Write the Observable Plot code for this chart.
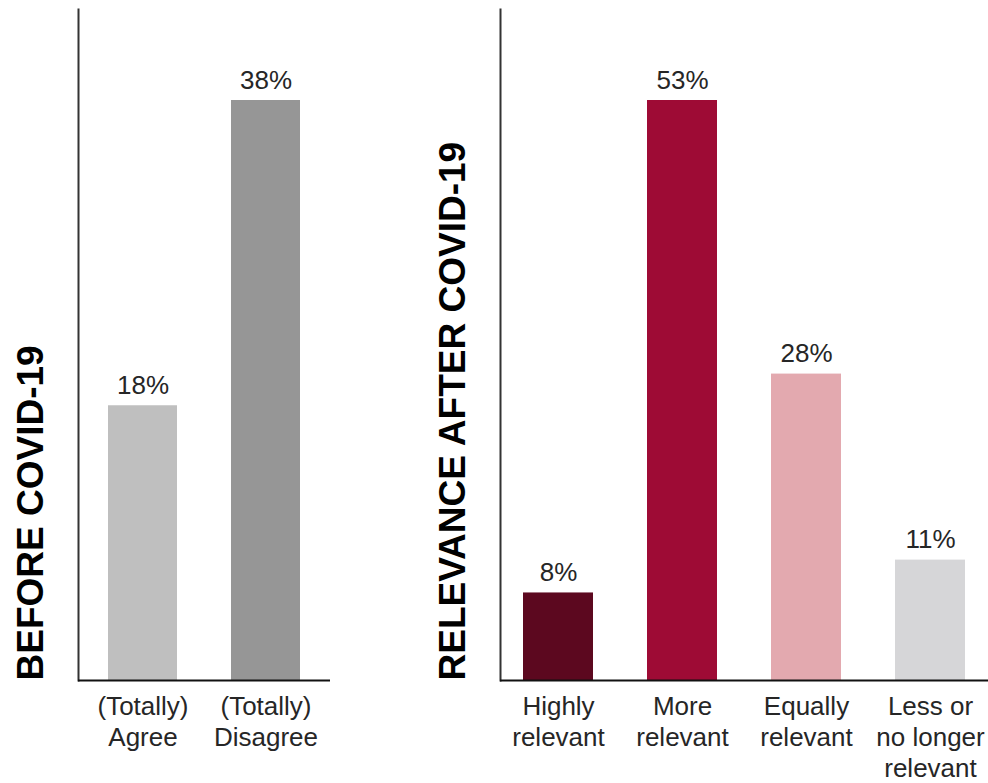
<!DOCTYPE html>
<html>
<head>
<meta charset="utf-8">
<script src="https://cdn.jsdelivr.net/npm/d3@7"></script>
<script src="https://cdn.jsdelivr.net/npm/@observablehq/plot@0.6"></script>
<style>
  html, body { margin: 0; padding: 0; background: #fff; }
  #chart { display: flex; width: 988px; height: 783px; }
  #chart svg { overflow: visible; font-family: "Liberation Sans", Arial, sans-serif; }
</style>
</head>
<body>
<div id="chart"></div>
<script>
// Before COVID-19
const beforeCategories = ["Agree", "Disagree"];
const beforeLabels = ["(Totally)\nAgree", "(Totally)\nDisagree"];
const beforeValues = [18, 38];
const beforeColors = ["#bfbfbf", "#969696"];

// Relevance after COVID-19
const afterCategories = ["Highly", "More", "Equally", "Less"];
const afterLabels = ["Highly\nrelevant", "More\nrelevant", "Equally\nrelevant", "Less or\nno longer\nrelevant"];
const afterValues = [8, 53, 28, 11];
const afterColors = ["#5c081f", "#9e0b35", "#e3a9af", "#d6d6d8"];

const HEIGHT = 783;
const BASE = 680;   // baseline of the bars
const TOP = 100;    // top of the tallest bar

function panel({categories, labels, values, colors, title, width, marginLeft, marginRight, paddingOuter, titleDx}) {
  const data = categories.map((key, i) => ({key, value: values[i]}));
  return Plot.plot({
    width,
    height: HEIGHT,
    marginLeft,
    marginRight,
    marginTop: 9,
    marginBottom: HEIGHT - BASE,
    style: {fontFamily: "'Liberation Sans', Arial, sans-serif", background: "transparent"},
    x: {domain: categories, paddingInner: 0.435, paddingOuter, label: null},
    y: {domain: [0, d3.max(values)], range: [BASE, TOP], axis: null},
    color: {domain: categories, range: colors},
    marks: [
      Plot.barY(data, {x: "key", y: "value", fill: "key"}),
      Plot.text(data, {
        x: "key", y: "value", text: d => `${d.value}%`,
        lineAnchor: "bottom", dy: -12, fontSize: 26, fill: "#262626"
      }),
      Plot.axisX({
        label: null, tickSize: 0, tickPadding: 12, fontSize: 26, lineHeight: 1.2,
        fill: "#262626",
        tickFormat: d => labels[categories.indexOf(d)]
      }),
      Plot.frame({anchor: "left", stroke: "#333", strokeWidth: 2}),
      Plot.ruleY([0], {stroke: "#111", strokeWidth: 2}),
      Plot.text([title], {
        text: d => d, frameAnchor: "bottom-left", rotate: -90,
        textAnchor: "start", lineAnchor: "middle", dx: titleDx,
        fontSize: 37, fontWeight: "bold", fill: "#000"
      })
    ]
  });
}

const chart = document.getElementById("chart");
chart.append(panel({
  categories: beforeCategories, labels: beforeLabels, values: beforeValues, colors: beforeColors,
  title: "BEFORE COVID-19",
  width: 420, marginLeft: 78, marginRight: 90, paddingOuter: 0.234, titleDx: -47
}));
chart.append(panel({
  categories: afterCategories, labels: afterLabels, values: afterValues, colors: afterColors,
  title: "RELEVANCE AFTER COVID-19",
  width: 568, marginLeft: 80, marginRight: 0, paddingOuter: 0.185, titleDx: -47
}));
</script>
</body>
</html>
